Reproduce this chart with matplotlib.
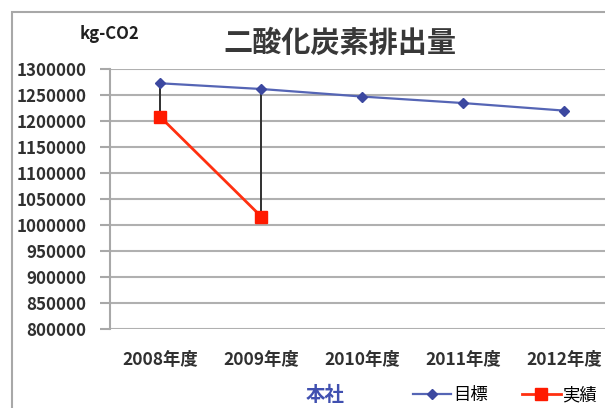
import numpy as np
import matplotlib
matplotlib.use('Agg')
import matplotlib.pyplot as plt
from matplotlib.patches import Rectangle

plt.rcParams['font.family'] = ['Noto Sans CJK JP', 'DejaVu Sans']

# données
annees = ['2008年度', '2009年度', '2010年度', '2011年度', '2012年度']
objectif = [1272500, 1261500, 1247000, 1234500, 1220000]   # 目標
reel = [1207500, 1016000]                                   # 実績
y_ticks = list(range(800000, 1300001, 50000))

fig = plt.figure(figsize=(6.05, 4.08), dpi=100)

# cadre autour du graphique (coupé à droite et en bas)
fig.patches.append(Rectangle((12 / 605, -0.1), 1.2, (408 - 12) / 408 + 0.1,
                             transform=fig.transFigure, fill=False,
                             edgecolor='#a8a8a8', linewidth=1.5))

ax = fig.add_axes([110 / 605, 79 / 408, 504.5 / 605, 260 / 408])
x = np.arange(len(annees))

# lignes verticales entre objectif et réel
for i in range(len(reel)):
    ax.plot([x[i], x[i]], [objectif[i], reel[i]], color='#303030', linewidth=1.4, zorder=2)

ax.plot(x, objectif, color='#5565b5', linewidth=1.6, marker='D', markersize=5.5,
        markerfacecolor='#3c48a0', markeredgecolor='#3c48a0', label='目標', zorder=3)
ax.plot(x[:len(reel)], reel, color='#ff3010', linewidth=2, marker='s', markersize=8,
        markerfacecolor='#ff1a00', markeredgecolor='#ff1a00', label='実績', zorder=4)

ax.set_xlim(-0.5, len(annees) - 0.5)
ax.set_ylim(800000, 1300000)
ax.set_yticks(y_ticks)
ax.set_yticklabels([str(v) for v in y_ticks], fontsize=12.2, color='#303030', fontweight='bold')
ax.set_xticks(x)
ax.set_xticklabels(annees, fontsize=12.5, color='#303030', fontweight='bold')
ax.tick_params(axis='x', length=0, pad=16)
ax.tick_params(axis='y', length=7, width=1.5, color='#a8a8a8', pad=10)
ax.grid(axis='y', color='#b0b0b0', linewidth=1.5)
ax.set_axisbelow(True)
for s in ['top', 'right', 'bottom']:
    ax.spines[s].set_visible(False)
ax.spines['left'].set_color('#a8a8a8')
ax.spines['left'].set_linewidth(1.5)

fig.text(340 / 605, 1 - 43 / 408, '二酸化炭素排出量', fontsize=21, color='#383838',
         fontweight='bold', ha='center', va='center')
fig.text(80 / 605, 1 - 34 / 408, 'kg-CO2', fontsize=12, color='#202020',
         fontweight='bold', ha='left', va='center')
fig.text(325 / 605, 1 - 395 / 408, '本社', fontsize=14, color='#4050b0',
         fontweight='bold', ha='center', va='center')

ax.legend(loc='center left', bbox_to_anchor=(406 / 605, 1 - 395 / 408),
          bbox_transform=fig.transFigure, ncol=2, frameon=False, fontsize=12.5,
          handlelength=2.2, handletextpad=0.1, columnspacing=2.0, borderaxespad=0)

fig.savefig('out.png', dpi=100)
